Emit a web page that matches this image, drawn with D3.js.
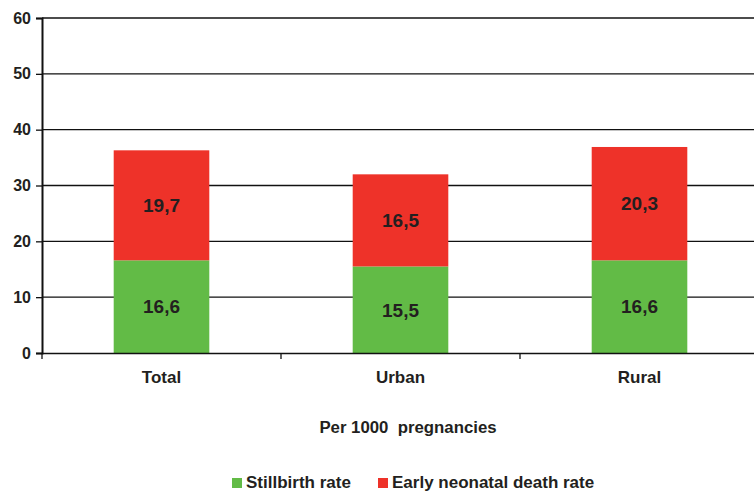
<!DOCTYPE html>
<html>
<head>
<meta charset="utf-8">
<script src="https://cdn.jsdelivr.net/npm/d3@7"></script>
<style>
  body { margin: 0; background: #fff; }
  text { font-family: "Liberation Sans", Arial, sans-serif; font-weight: bold; fill: #231f20; }
</style>
</head>
<body>
<div id="vis"></div>
<script>
const w = 754;
const h = 493;

const categories = ["Total", "Urban", "Rural"];
const stillbirth = [16.6, 15.5, 16.6];
const earlyNeonatal = [19.7, 16.5, 20.3];
const yTicks = [0, 10, 20, 30, 40, 50, 60];
const seriesNames = ["Stillbirth rate", "Early neonatal death rate"];
const colors = ["#62bb46", "#ee3229"];

const margin = ({ top: 18, right: -5, bottom: 140, left: 42 });

const svg = d3.select('#vis')
    .append('svg')
    .attr('width', w)
    .attr('height', h);

const xScale = d3.scaleBand()
    .domain(categories)
    .range([margin.left, w - margin.right])
    .padding(0);

const yScale = d3.scaleLinear()
    .domain([0, 60])
    .range([h - margin.bottom, margin.top]);

// gridlines
svg.append('g')
    .selectAll('line')
    .data(yTicks.filter(d => d > 0))
    .join('line')
    .attr('x1', margin.left)
    .attr('x2', w)
    .attr('y1', d => yScale(d))
    .attr('y2', d => yScale(d))
    .attr('stroke', '#111')
    .attr('stroke-width', 1.3);

const dataset = categories.map((c, i) => ({ cause: c, values: [stillbirth[i], earlyNeonatal[i]] }));
const stack = dataset.map(d => {
    let y0 = 0;
    return d.values.map((v, k) => {
        const seg = { cat: d.cause, k: k, v: v, y0: y0, y1: y0 + v };
        y0 += v;
        return seg;
    });
}).flat();

const barW = xScale.bandwidth() * 0.4;

svg.append('g')
    .selectAll('rect')
    .data(stack)
    .join('rect')
    .attr('x', d => xScale(d.cat) + (xScale.bandwidth() - barW) / 2)
    .attr('y', d => yScale(d.y1))
    .attr('width', barW)
    .attr('height', d => yScale(d.y0) - yScale(d.y1))
    .attr('fill', d => colors[d.k]);

svg.append('g')
    .selectAll('text')
    .data(stack)
    .join('text')
    .attr('x', d => xScale(d.cat) + xScale.bandwidth() / 2)
    .attr('y', d => (yScale(d.y0) + yScale(d.y1)) / 2)
    .attr('dy', '0.36em')
    .attr('text-anchor', 'middle')
    .style('font-size', '19px')
    .text(d => d3.format('.1f')(d.v).replace('.', ','));

// y axis
const yAxis = d3.axisLeft(yScale).tickValues(yTicks).tickSize(6).tickPadding(5);
const gy = svg.append('g')
    .attr('transform', 'translate(' + margin.left + ',0)')
    .call(yAxis);
gy.select('.domain').attr('stroke', '#111').attr('stroke-width', 2);
gy.selectAll('.tick line').attr('stroke', '#111').attr('stroke-width', 1.3);
gy.selectAll('.tick text').style('font-size', '16px').attr('fill', '#231f20');

// x axis
const xAxis = d3.axisBottom(xScale).tickSize(0).tickPadding(18);
const gx = svg.append('g')
    .attr('transform', 'translate(0,' + (h - margin.bottom) + ')')
    .call(xAxis);
gx.select('.domain').attr('stroke', '#111').attr('stroke-width', 1.5);
gx.selectAll('.tick text').style('font-size', '17px').attr('fill', '#231f20');

// separator ticks between categories
gx.append('g')
    .selectAll('line')
    .data(categories)
    .join('line')
    .attr('x1', d => xScale(d))
    .attr('x2', d => xScale(d))
    .attr('y1', 0)
    .attr('y2', 6)
    .attr('stroke', '#111')
    .attr('stroke-width', 1.3);

svg.append('text')
    .attr('x', 408)
    .attr('y', 433)
    .attr('text-anchor', 'middle')
    .style('font-size', '16.8px')
    .style('white-space', 'pre')
    .text('Per 1000  pregnancies');

// legend
const legendX = [232, 378];
const legend = svg.append('g')
    .selectAll('g')
    .data(seriesNames)
    .join('g')
    .attr('transform', (d, i) => 'translate(' + legendX[i] + ',478)');

legend.append('rect')
    .attr('width', 10)
    .attr('height', 10)
    .attr('fill', (d, i) => colors[i]);

legend.append('text')
    .attr('x', 14)
    .attr('y', 10)
    .style('font-size', '17px')
    .text(d => d);
</script>
</body>
</html>
